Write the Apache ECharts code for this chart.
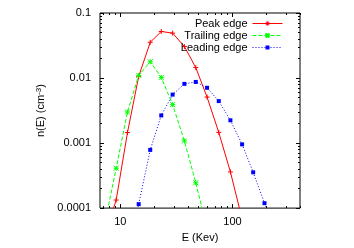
<!DOCTYPE html>
<html>
<head>
<meta charset="utf-8">
<script src="https://cdn.jsdelivr.net/npm/echarts@6/dist/echarts.min.js"></script>
<style>html,body{margin:0;padding:0;background:#fff}#c{width:354px;height:248px}</style>
</head>
<body>
<div id="c"></div>
<script>
// ---- data ----
var peakE  = [7.3, 9.2, 11.6, 14.6, 18.5, 23.2, 29.3, 37.3, 47.1, 59.4, 75.5, 95.9, 121.9];
var peakN  = [3.9e-5, 1.33e-4, 1.45e-3, 0.0106, 0.0355, 0.052, 0.049, 0.0305, 0.0145, 0.0051, 0.00146, 3.6e-4, 6.8e-5];
var trailE = [7.3, 9.2, 11.6, 14.6, 18.5, 23.2, 29.3, 37.3, 47.1, 59.4];
var trailN = [5.9e-5, 4.1e-4, 3.0e-3, 0.011, 0.0178, 0.0102, 0.0039, 0.00108, 2.45e-4, 4.95e-5];
var leadE  = [11.6, 14.6, 18.5, 23.2, 29.3, 37.3, 47.1, 59.4, 75.5, 95.9, 121.9, 153, 193, 243];
var leadN  = [1.3e-5, 1.15e-4, 7.85e-4, 2.66e-3, 5.56e-3, 8.13e-3, 8.71e-3, 7.08e-3, 4.42e-3, 2.24e-3, 9.55e-4, 3.55e-4, 1.19e-4, 4.9e-5];
var seriesNames = ['Peak edge', 'Trailing edge', 'Leading edge'];
var xMajorTicks = [10, 100];
var xMinorTicks = [7, 8, 9, 20, 30, 40, 50, 60, 70, 80, 90, 200, 300, 400];
var yMajorTicks = [0.0001, 0.001, 0.01, 0.1];
var yMinorTicks = [0.0002, 0.0003, 0.0004, 0.0005, 0.0006, 0.0007, 0.0008, 0.0009,
                   0.002, 0.003, 0.004, 0.005, 0.006, 0.007, 0.008, 0.009,
                   0.02, 0.03, 0.04, 0.05, 0.06, 0.07, 0.08, 0.09];
var xName = 'E (Kev)';
var X_MIN = 6.6, X_MAX = 400, Y_MIN = 0.0001, Y_MAX = 0.1;

var FONT = 'Liberation Sans';
function pairs(xs, ys) { return xs.map(function (x, i) { return [x, ys[i]]; }); }

function xAx(pos, vals, len, labels, extra) {
  return Object.assign({
    type: 'log', logBase: 10, min: X_MIN, max: X_MAX, position: pos,
    axisLine: { show: false }, splitLine: { show: false }, minorTick: { show: false },
    axisTick: { show: true, inside: true, length: len, customValues: vals, lineStyle: { color: '#000', width: 1 } },
    axisLabel: { show: labels, customValues: vals, margin: 8, fontSize: 11, fontFamily: FONT, color: '#000',
      formatter: function (v) { return String(+v.toPrecision(6)); } }
  }, extra || {});
}
function yAx(pos, vals, len, labels, extra) {
  return Object.assign({
    type: 'log', logBase: 10, min: Y_MIN, max: Y_MAX, position: pos,
    axisLine: { show: false }, splitLine: { show: false }, minorTick: { show: false },
    axisTick: { show: true, inside: true, length: len, customValues: vals, lineStyle: { color: '#000', width: 1 } },
    axisLabel: { show: labels, customValues: vals, margin: 9, fontSize: 11, fontFamily: FONT, color: '#000',
      formatter: function (v) { return String(+v.toPrecision(6)); } }
  }, extra || {});
}

var plus = 'path://M0,5L10,5M5,0L5,10';
var cross = 'path://M0,0L10,10M10,0L0,10M0,5L10,5M5,0L5,10';

var chart = echarts.init(document.getElementById('c'), null, { renderer: 'canvas' });
chart.setOption({
  animation: false,
  backgroundColor: '#fff',
  grid: { left: 100, right: 54, top: 13, bottom: 35, show: true, borderColor: '#000', borderWidth: 1, backgroundColor: 'transparent' },
  xAxis: [
    xAx('bottom', xMajorTicks, 4, true, { name: xName, nameLocation: 'middle', nameGap: 20,
      nameTextStyle: { fontSize: 11, fontFamily: FONT, color: '#000' } }),
    xAx('bottom', xMinorTicks, 2, false),
    xAx('top', xMajorTicks, 4, false),
    xAx('top', xMinorTicks, 2, false)
  ],
  yAxis: [
    yAx('left', yMajorTicks, 4, true, { name: '{n|n(E) (cm}{s|-3}{n|)}', nameLocation: 'middle', nameGap: 45, nameRotate: 90,
      nameTextStyle: { fontSize: 11, fontFamily: FONT, color: '#000',
        rich: { n: { fontSize: 11, fontFamily: FONT, color: '#000' },
                s: { fontSize: 8, fontFamily: FONT, color: '#000', verticalAlign: 'top', padding: [0, 0, 5, 0] } } } }),
    yAx('left', yMinorTicks, 2, false),
    yAx('right', yMajorTicks, 4, false),
    yAx('right', yMinorTicks, 2, false)
  ],
  legend: {
    orient: 'vertical', right: 66, top: 13, align: 'right',
    itemWidth: 30, itemHeight: 5, itemGap: 1,
    lineStyle: { width: 1 },
    textStyle: { fontSize: 11, fontFamily: FONT, color: '#000', lineHeight: 10 },
    data: seriesNames
  },
  series: [
    { name: seriesNames[0], type: 'line', data: pairs(peakE, peakN), xAxisIndex: 0, yAxisIndex: 0,
      symbol: plus, symbolSize: 5, showAllSymbol: true,
      lineStyle: { color: '#ff0000', width: 1, type: 'solid' },
      itemStyle: { color: '#ff0000', borderColor: '#ff0000', borderWidth: 1 } },
    { name: seriesNames[1], type: 'line', data: pairs(trailE, trailN), xAxisIndex: 0, yAxisIndex: 0,
      symbol: cross, symbolSize: 5, showAllSymbol: true,
      lineStyle: { color: '#00ff00', width: 1, type: [4, 2] },
      itemStyle: { color: '#00ff00', borderColor: '#00ff00', borderWidth: 1 } },
    { name: seriesNames[2], type: 'line', data: pairs(leadE, leadN), xAxisIndex: 0, yAxisIndex: 0,
      symbol: 'rect', symbolSize: 4, showAllSymbol: true,
      lineStyle: { color: '#0000ff', width: 1, type: [1, 2] },
      itemStyle: { color: '#0000ff', borderWidth: 0 } }
  ]
});
</script>
</body>
</html>
